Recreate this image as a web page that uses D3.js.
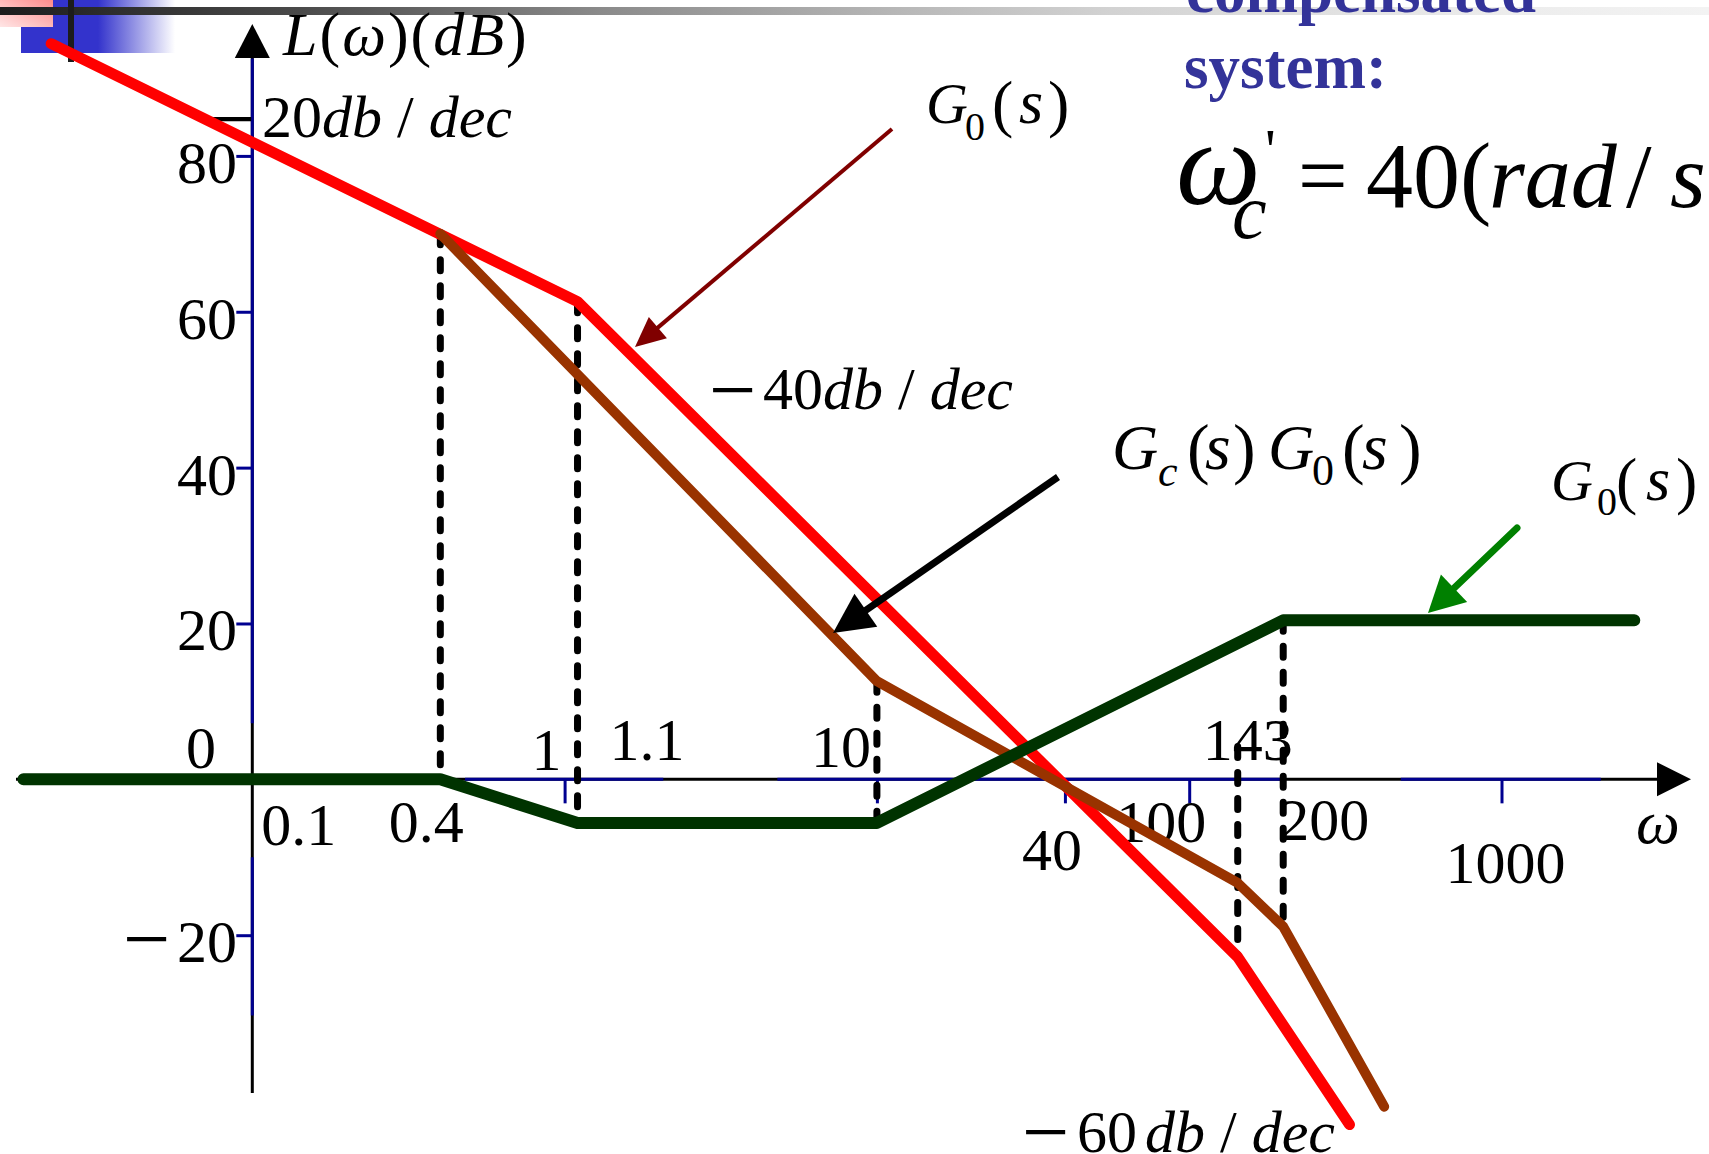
<!DOCTYPE html>
<html>
<head>
<meta charset="utf-8">
<script src="https://cdn.jsdelivr.net/npm/d3@7"></script>
<style>
  html, body { margin: 0; padding: 0; background: #fff; }
  svg { display: block; }
  text { font-family: "Liberation Serif", "Times New Roman", serif; }
</style>
</head>
<body>
<svg id="chart" width="1709" height="1154"></svg>
<script>
// Asymptotic Bode magnitude plots: frequency in rad/s, magnitude in dB
const plantW = [0.0227, 1.1, 143, 326];           // G0(s), uncompensated
const plantL = [94.4, 61.3, -22.8, -44.3];
const compW = [0.4, 10, 143, 200, 421];           // Gc(s)G0(s), compensated
const compL = [70, 12.6, -13.3, -18.9, -42];
const ctrlW = [0.0185, 0.4, 1.1, 10, 200, 2662];  // Gc(s), compensator
const ctrlL = [0, 0, -5.6, -5.6, 20.4, 20.4];

// Vertical guides at the corner frequencies
const guideW = [0.4, 1.1, 10, 143, 200];
const guideTop = [70, 61.3, 12.6, 4.2, 20.4];
const guideBottom = [0, -5.6, -5.6, -22.8, -18.9];

// Axis ticks and labels
const yTickValues = [80, 60, 40, 20, -20];
const yTickLabels = ["80", "60", "40", "20", "20"];
const xTickValues = [1, 10, 40, 100, 1000];
const xLabelValues = [0.1, 0.4, 1, 1.1, 10, 40, 100, 143, 200, 1000];
const xLabelTexts = ["0.1", "0.4", "1", "1.1", "10", "40", "100", "143", "200", "1000"];

const toPoints = (ws, ls) => ws.map((w, i) => ({ w, L: ls[i] }));

const svg = d3.select("#chart");
const defs = svg.append("defs");

const x = d3.scaleLog().domain([0.1, 1000]).range([252.3, 1501.5]);
const y = d3.scaleLinear().domain([-20, 80]).range([935.2, 155.9]);
const x0 = x(0.1), y0 = y(0);

// ---------- slide header ornament ----------
function linGrad(id, stops, x1, y1, x2, y2) {
  const g = defs.append("linearGradient").attr("id", id)
    .attr("x1", x1).attr("y1", y1).attr("x2", x2).attr("y2", y2);
  stops.forEach(([o, c]) => g.append("stop").attr("offset", o).attr("stop-color", c));
}
linGrad("barGrad", [[0, "#1c1c1c"], [0.175, "#4a4a4a"], [0.35, "#8a8a8a"], [0.53, "#b8b8b8"],
  [0.65, "#d2d2d2"], [0.88, "#ececec"], [1, "#f3f3f3"]], 0, 0, 1, 0);
linGrad("blueGrad", [[0, "#3333cc"], [0.5, "#3333cc"], [1, "#ffffff"]], 0, 0, 1, 0);
linGrad("pinkGrad", [[0, "#ff8a8a"], [1, "#ffe6e6"]], 1, 0, 0, 1);

const orn = svg.append("g");
orn.append("rect").attr("x", 21).attr("y", 0).attr("width", 154).attr("height", 53).attr("fill", "url(#blueGrad)");
orn.append("rect").attr("x", 0).attr("y", 0).attr("width", 53).attr("height", 27).attr("fill", "url(#pinkGrad)");
orn.append("rect").attr("x", 0).attr("y", 7).attr("width", 1709).attr("height", 8).attr("fill", "url(#barGrad)");
orn.append("rect").attr("x", 68).attr("y", 0).attr("width", 6).attr("height", 62).attr("fill", "#1c1c1c");

// ---------- axes ----------
const axisBlue = "#000090";
const axes = svg.append("g");

// horizontal axis: black base with blue overlay pieces
axes.append("line").attr("x1", 16).attr("x2", 1660).attr("y1", y0).attr("y2", y0)
  .attr("stroke", "#000").attr("stroke-width", 3);
[[0.48, 2.07], [4.8, 204], [476, 2080]].forEach(([a, b]) => {
  axes.append("line").attr("x1", x(a)).attr("x2", x(b)).attr("y1", y0).attr("y2", y0)
    .attr("stroke", axisBlue).attr("stroke-width", 3);
});
axes.append("path").attr("d", `M1691,${y0} L1657,${y0 - 17} L1657,${y0 + 17} Z`).attr("fill", "#000");

// vertical axis: blue with black pieces near and below the zero line
axes.append("line").attr("x1", x0).attr("x2", x0).attr("y1", 56).attr("y2", 1093)
  .attr("stroke", "#000").attr("stroke-width", 3);
[[92.5, 7.2], [-10, -30.3]].forEach(([a, b]) => {
  axes.append("line").attr("x1", x0).attr("x2", x0).attr("y1", Math.max(56, y(a))).attr("y2", y(b))
    .attr("stroke", axisBlue).attr("stroke-width", 3);
});
axes.append("path").attr("d", `M${x0},24 L${x0 - 17.5},58 L${x0 + 17.5},58 Z`).attr("fill", "#000");

// tick marks via d3 axes
const yAxis = axes.append("g").attr("transform", `translate(${x0},0)`)
  .call(d3.axisLeft(y).tickValues(yTickValues).tickSize(16).tickFormat(""));
const xAxis = axes.append("g").attr("transform", `translate(0,${y0})`)
  .call(d3.axisBottom(x).tickValues(xTickValues).tickSize(24).tickFormat(""));
[yAxis, xAxis].forEach(g => {
  g.select(".domain").remove();
  g.selectAll(".tick line").attr("stroke", axisBlue).attr("stroke-width", 3);
});

// ---------- tick labels ----------
const labels = svg.append("g").attr("font-size", 60).attr("fill", "#000");
// long math minus sign, centred vertically on cy
function minus(ix, cy) {
  labels.append("text").attr("x", ix - 6).attr("y", cy + 32).attr("font-size", 84).text("\u2212");
}
labels.selectAll("text.ylab").data(yTickValues).join("text").attr("class", "ylab")
  .attr("x", 237).attr("y", d => y(d) + 27).attr("text-anchor", "end")
  .text((d, i) => yTickLabels[i]);
yTickValues.filter(v => v < 0).forEach(v => minus(129, y(v)));
labels.append("text").attr("x", 216).attr("y", y0 - 11).attr("text-anchor", "end").text("0");

const xPlace = {
  "0.1": { dx: 9, y: 845, a: "start" },
  "0.4": { dx: -14, y: 842, a: "middle" },
  "1": { dx: -18, y: 770, a: "middle" },
  "1.1": { dx: 32, y: 760, a: "start" },
  "10": { dx: -6, y: 767, a: "end" },
  "40": { dx: -13, y: 870, a: "middle" },
  "100": { dx: -28, y: 842, a: "middle" },
  "143": { dx: 10, y: 760, a: "middle" },
  "200": { dx: -4, y: 840, a: "start" },
  "1000": { dx: 4, y: 883, a: "middle" }
};
labels.selectAll("text.xlab").data(xLabelValues).join("text").attr("class", "xlab")
  .attr("x", (d, i) => x(d) + xPlace[xLabelTexts[i]].dx)
  .attr("y", (d, i) => xPlace[xLabelTexts[i]].y)
  .attr("text-anchor", (d, i) => xPlace[xLabelTexts[i]].a)
  .text((d, i) => xLabelTexts[i]);

// axis titles
labels.append("text").attr("x", 1636).attr("y", 843).attr("font-style", "italic").attr("font-size", 62).text("\u03c9");
const yTitle = labels.append("text").attr("x", 283).attr("y", 55).attr("font-size", 62).attr("letter-spacing", 2);
[["L", 1], ["(", 0], ["\u03c9", 1], [")", 0], ["(", 0], ["d", 1], ["B", 1], [")", 0]].forEach(([t, it]) =>
  yTitle.append("tspan").attr("font-style", it ? "italic" : "normal").text(t));

// slope annotations
function slopeLabel(minusX, minusY, numX, baseY, num, gap) {
  minus(minusX, minusY);
  const t = labels.append("text").attr("x", numX).attr("y", baseY);
  t.append("tspan").text(num);
  t.append("tspan").attr("dx", gap).attr("font-style", "italic").text("db");
  t.append("tspan").text(" / ");
  t.append("tspan").attr("font-style", "italic").text("dec");
}
slopeLabel(214, 115, 262, 137, "20", 0);
slopeLabel(715, 386, 763, 409, "40", 0);
slopeLabel(1028, 1128, 1077, 1152, "60", 8);

// ---------- corner-frequency guides ----------
svg.append("g").selectAll("line").data(guideW).join("line")
  .attr("x1", d => x(d)).attr("x2", d => x(d))
  .attr("y1", (d, i) => y(guideTop[i])).attr("y2", (d, i) => y(guideBottom[i]))
  .attr("stroke", "#000").attr("stroke-width", 7)
  .attr("stroke-dasharray", "11,15").attr("stroke-linecap", "round");

// ---------- magnitude curves ----------
const line = d3.line().x(d => x(d.w)).y(d => y(d.L));
const curves = [
  { pts: toPoints(plantW, plantL), color: "#ff0000", width: 11 },
  { pts: toPoints(compW, compL), color: "#993300", width: 10 },
  { pts: toPoints(ctrlW, ctrlL), color: "#003300", width: 12 }
];
svg.append("g").selectAll("path").data(curves).join("path")
  .attr("d", d => line(d.pts)).attr("fill", "none")
  .attr("stroke", d => d.color).attr("stroke-width", d => d.width)
  .attr("stroke-linejoin", "round").attr("stroke-linecap", "round");

// ---------- callout arrows ----------
function arrow(x1, y1, x2, y2, color, w, headLen, headW, cap) {
  const g = svg.append("g");
  const dx = x2 - x1, dy = y2 - y1, len = Math.hypot(dx, dy);
  const ux = dx / len, uy = dy / len;
  const bx = x2 - ux * headLen, by = y2 - uy * headLen;
  g.append("line").attr("x1", x1).attr("y1", y1).attr("x2", bx + ux * 2).attr("y2", by + uy * 2)
    .attr("stroke", color).attr("stroke-width", w).attr("stroke-linecap", cap || "butt");
  const px = -uy * headW / 2, py = ux * headW / 2;
  g.append("path").attr("d", `M${x2},${y2} L${bx + px},${by + py} L${bx - px},${by - py} Z`).attr("fill", color);
}
arrow(892, 129, 635, 347, "#800000", 4, 30, 28);
arrow(1058, 477, 833, 633, "#000000", 7, 40, 40);
arrow(1517, 528, 1428, 613, "#008000", 7, 36, 38, "round");

// ---------- transfer-function labels ----------
const notes = svg.append("g").attr("fill", "#000");
function tf(pieces) {
  const t = notes.append("text");
  pieces.forEach(([s, px, py, size, it]) =>
    t.append("tspan").attr("x", px).attr("y", py).attr("font-size", size)
      .attr("font-style", it ? "italic" : "normal").text(s));
}
tf([["G", 926, 123, 58, 1], ["0", 965, 140, 40, 0], ["(", 992, 125, 64, 0], ["s", 1019, 123, 62, 1], [")", 1048, 125, 64, 0]]);
tf([["G", 1112, 469, 64, 1], ["c", 1158, 486, 44, 1], ["(", 1187, 471, 68, 0], ["s", 1205, 469, 66, 1], [")", 1233, 471, 68, 0],
    ["G", 1268, 469, 64, 1], ["0", 1312, 485, 44, 0], ["(", 1342, 471, 68, 0], ["s", 1362, 469, 66, 1], [")", 1399, 471, 68, 0]]);
tf([["G", 1551, 500, 58, 1], ["0", 1597, 515, 40, 0], ["(", 1616, 502, 64, 0], ["s", 1646, 500, 62, 1], [")", 1676, 502, 64, 0]]);

// crossover frequency after compensation
notes.append("text").attr("x", 1186).attr("y", 12).attr("font-size", 63).attr("font-weight", "bold")
  .attr("fill", "#333399").text("compensated");
notes.append("text").attr("x", 1184).attr("y", 88).attr("font-size", 63).attr("font-weight", "bold")
  .attr("fill", "#333399").text("system:");
tf([["\u03c9", 1176, 204, 120, 1], ["c", 1232, 238, 78, 1], ["'", 1265, 170, 60, 0], ["=", 1298, 205, 88, 0],
    ["40(", 1366, 207, 94, 0], ["rad", 1489, 207, 92, 1], ["/", 1626, 207, 92, 0], ["s", 1670, 207, 92, 1]]);
</script>
</body>
</html>
